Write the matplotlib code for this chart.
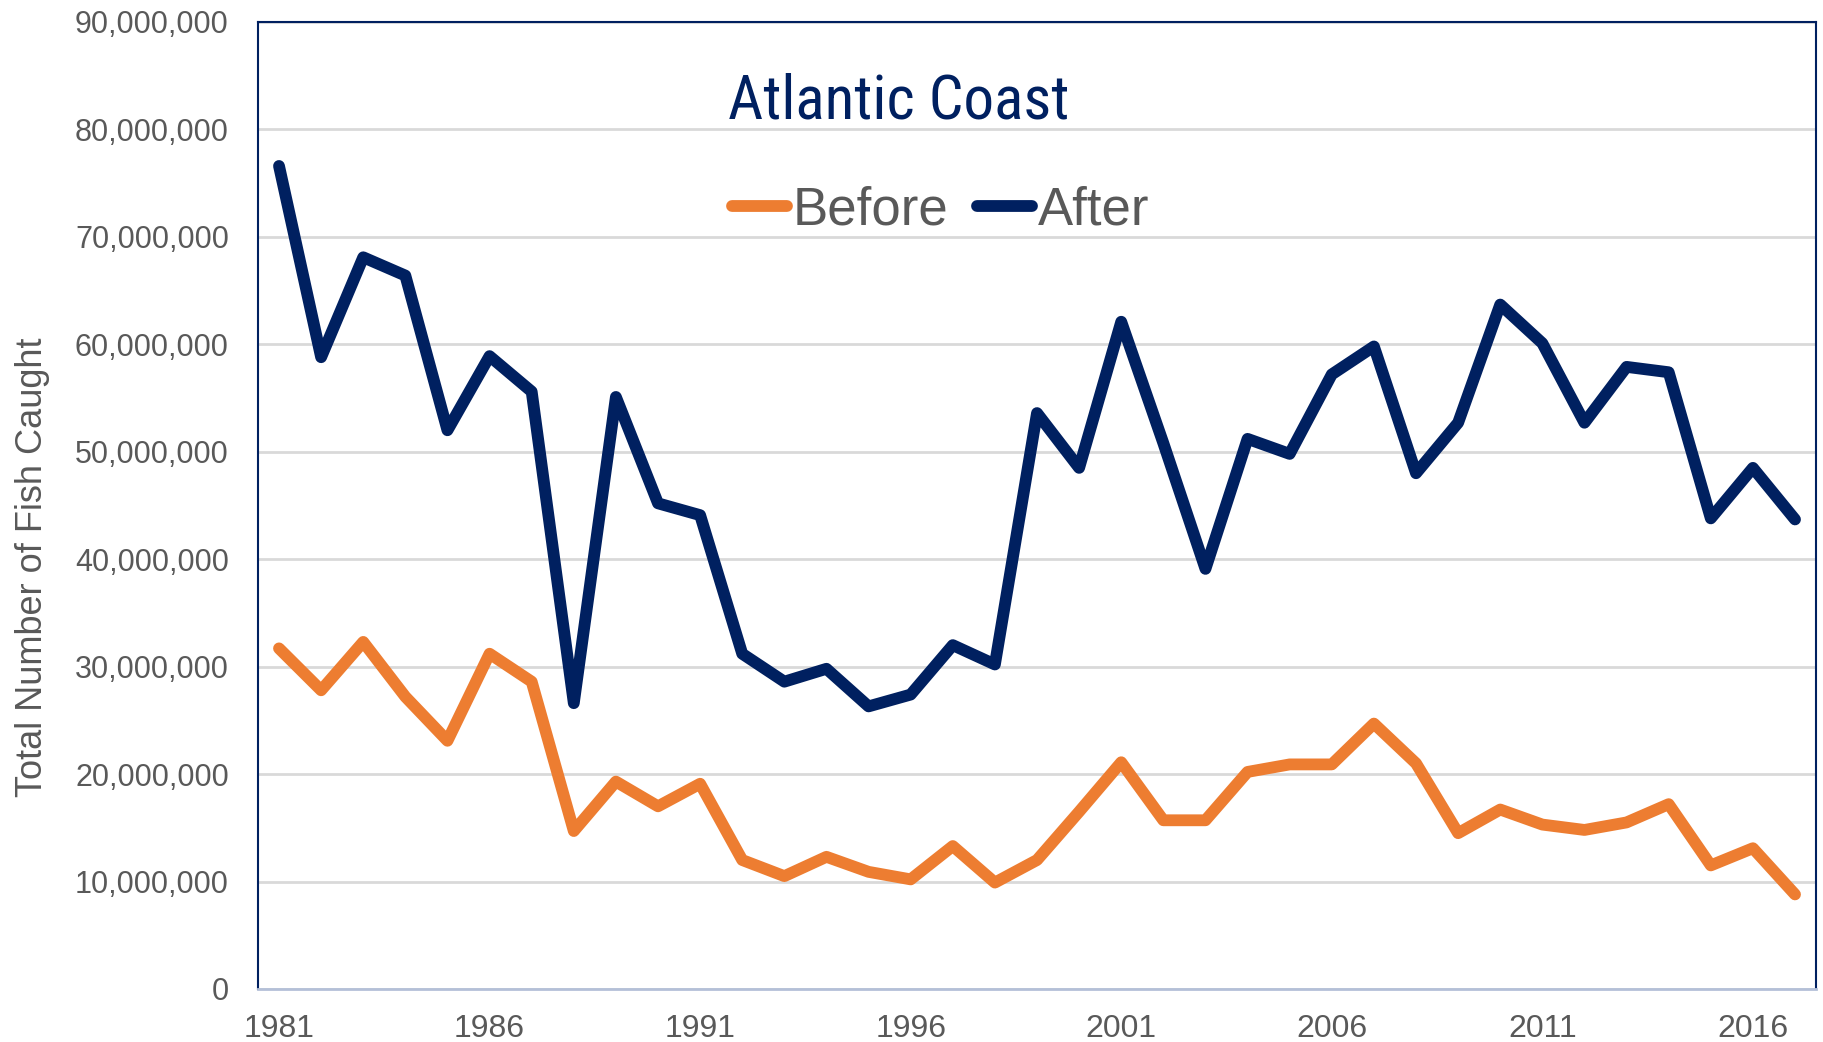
import matplotlib
matplotlib.use("Agg")
import matplotlib.pyplot as plt
from matplotlib.ticker import FuncFormatter, FixedLocator
from matplotlib import font_manager

years = list(range(1981, 2018))
before = [31.7, 27.8, 32.3, 27.2, 23.1, 31.2, 28.6, 14.7, 19.3, 17.0,
          19.1, 12.0, 10.5, 12.3, 10.9, 10.2, 13.3, 9.9, 12.0, 16.5,
          21.1, 15.7, 15.7, 20.2, 20.9, 20.9, 24.7, 21.0, 14.5, 16.7,
          15.3, 14.8, 15.5, 17.2, 11.5, 13.1, 8.8]
after = [76.6, 58.8, 68.1, 66.4, 52.0, 58.9, 55.6, 26.6, 55.1, 45.2,
         44.1, 31.2, 28.6, 29.8, 26.3, 27.4, 32.0, 30.2, 53.6, 48.5,
         62.1, 50.8, 39.1, 51.2, 49.8, 57.2, 59.8, 48.0, 52.7, 63.7,
         60.1, 52.7, 57.9, 57.4, 43.8, 48.5, 43.7]
before = [v * 1e6 for v in before]
after = [v * 1e6 for v in after]
xtick_years = [1981, 1986, 1991, 1996, 2001, 2006, 2011, 2016]
yticks = [i * 1e7 for i in range(10)]
title = "Atlantic Coast"
ylabel = "Total Number of Fish Caught"

names = {f.name for f in font_manager.fontManager.ttflist}
base = "Liberation Sans" if "Liberation Sans" in names else "DejaVu Sans"
narrow = base
for cand in ["Liberation Sans Narrow", "Roboto Condensed", "Open Sans Condensed",
             "DejaVu Sans Condensed"]:
    if cand in names:
        narrow = cand
        break
plt.rcParams['font.family'] = [base, 'DejaVu Sans']

ORANGE = "#ED7D31"
NAVY = "#002060"
GRAY = "#595959"

fig = plt.figure(figsize=(18.23, 10.42), dpi=100)
ax = fig.add_axes([0.1415, 0.0509, 0.9962 - 0.1415, 0.9789 - 0.0509])

ax.plot(years, before, color=ORANGE, lw=8.5, solid_capstyle='round',
        solid_joinstyle='round', label="Before", zorder=3)
ax.plot(years, after, color=NAVY, lw=8.5, solid_capstyle='round',
        solid_joinstyle='round', label="After", zorder=3)

ax.set_xlim(1980.5, 2017.5)
ax.set_ylim(0, 9e7)
ax.yaxis.set_major_locator(FixedLocator(yticks))
ax.yaxis.set_major_formatter(FuncFormatter(lambda v, p: f"{int(round(v)):,}"))
ax.xaxis.set_major_locator(FixedLocator(xtick_years))
ax.grid(axis='y', color="#D9D9D9", lw=2, zorder=0)
ax.set_axisbelow(True)

ax.tick_params(axis='y', length=0, labelsize=22, labelcolor=GRAY, pad=21)
ax.tick_params(axis='x', length=0, labelsize=23, labelcolor=GRAY, pad=18)

for s in ['left', 'top', 'right']:
    ax.spines[s].set_color(NAVY)
    ax.spines[s].set_linewidth(1.5)
ax.spines['bottom'].set_color("#B4C0D8")
ax.spines['bottom'].set_linewidth(2)

fig.text(33 / 1823, 1 - 567 / 1042, ylabel, rotation=90, ha='center', va='center',
         fontsize=26, color=GRAY)

title_size = 44 if narrow != base else 41
ax.text(0.411, 0.918, title, transform=ax.transAxes, ha='center', va='center',
        fontsize=title_size, color=NAVY, family=[narrow, 'DejaVu Sans'])

leg = ax.legend(loc='center', bbox_to_anchor=(0.438, 0.805), ncol=2, frameon=False,
                fontsize=38, handlelength=1.05, handletextpad=0.1,
                columnspacing=0.55, borderpad=0)
for t in leg.get_texts():
    t.set_color(GRAY)
for l in leg.get_lines():
    l.set_linewidth(8.5)
    l.set_solid_capstyle('round')

fig.savefig("out.png", dpi=100)
